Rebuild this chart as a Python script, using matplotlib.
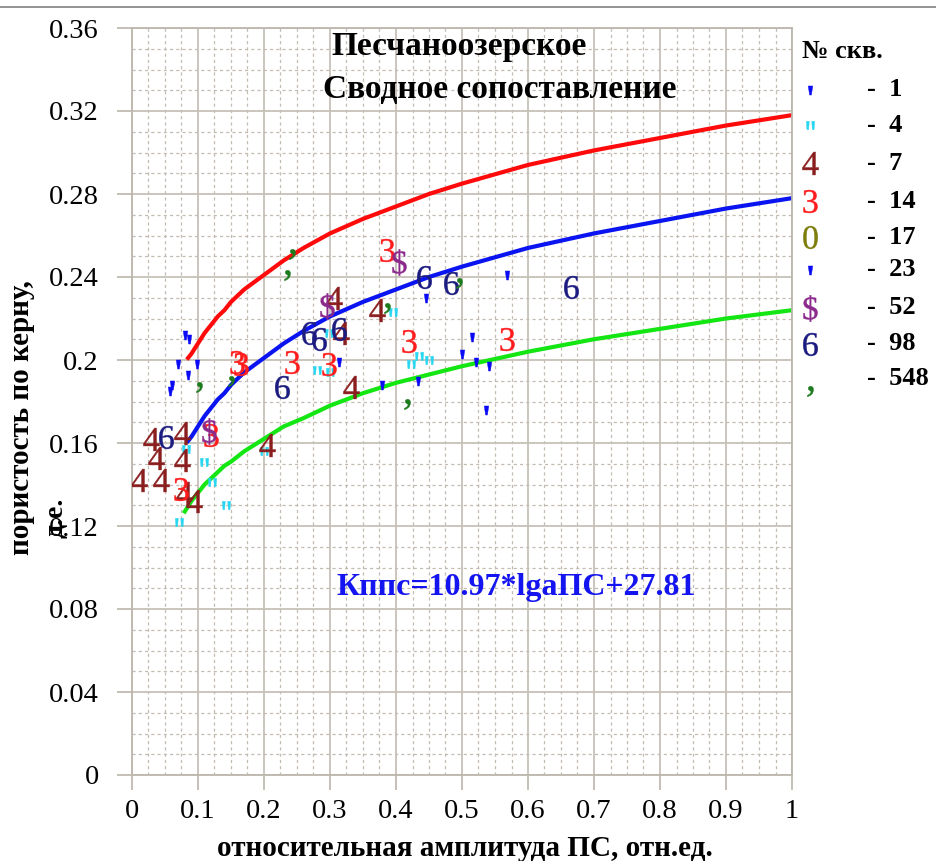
import matplotlib
matplotlib.use('Agg')
import matplotlib.pyplot as plt
from matplotlib.lines import Line2D
from matplotlib.path import Path

plt.rcParams['font.family'] = ['Liberation Serif', 'DejaVu Serif']
plt.rcParams['mathtext.fontset'] = 'custom'
plt.rcParams['mathtext.rm'] = 'Liberation Serif'
plt.rcParams['mathtext.it'] = 'Liberation Serif'
plt.rcParams['mathtext.bf'] = 'Liberation Serif:bold'

# trend lines
curve_x = [0.085, 0.09, 0.1, 0.11, 0.12, 0.13, 0.14, 0.15, 0.17, 0.2, 0.23, 0.26,
           0.3, 0.35, 0.4, 0.45, 0.5, 0.6, 0.7, 0.8, 0.9, 1.0]
red_y = [0.201, 0.203, 0.208, 0.213, 0.217, 0.221, 0.224, 0.228, 0.234, 0.241, 0.248, 0.254,
         0.261, 0.268, 0.274, 0.280, 0.285, 0.294, 0.301, 0.307, 0.313, 0.318]
blue_y = [0.161, 0.163, 0.168, 0.173, 0.177, 0.181, 0.184, 0.188, 0.194, 0.201, 0.208, 0.214,
          0.221, 0.228, 0.234, 0.240, 0.245, 0.254, 0.261, 0.267, 0.273, 0.278]
green_x = [0.08, 0.09, 0.1, 0.11, 0.12, 0.13, 0.14, 0.15, 0.17, 0.2, 0.23, 0.26,
           0.3, 0.35, 0.4, 0.45, 0.5, 0.6, 0.7, 0.8, 0.9, 1.0]
green_y = [0.127, 0.132, 0.136, 0.140, 0.143, 0.146, 0.149, 0.151, 0.156, 0.162, 0.168, 0.172,
           0.178, 0.184, 0.189, 0.193, 0.197, 0.204, 0.210, 0.215, 0.220, 0.224]

# points by well
w1_x = [0.080, 0.087, 0.070, 0.098, 0.085, 0.061, 0.058]
w1_y = [0.212, 0.210, 0.198, 0.198, 0.193, 0.188, 0.185]
w4_x = [0.082, 0.109, 0.121, 0.142, 0.071, 0.200, 0.298, 0.280, 0.300, 0.395, 0.423, 0.435, 0.450]
w4_y = [0.157, 0.151, 0.141, 0.130, 0.122, 0.156, 0.213, 0.195, 0.194, 0.223, 0.198, 0.202, 0.200]
w7_x = [0.029, 0.076, 0.036, 0.076, 0.011, 0.044, 0.079, 0.094, 0.205, 0.306, 0.317, 0.371, 0.332]
w7_y = [0.162, 0.165, 0.153, 0.152, 0.142, 0.142, 0.136, 0.132, 0.159, 0.230, 0.213, 0.224, 0.187]
w14_x = [0.159, 0.165, 0.242, 0.120, 0.074, 0.386, 0.298, 0.420, 0.568]
w14_y = [0.199, 0.198, 0.199, 0.164, 0.138, 0.253, 0.198, 0.209, 0.210]
w17_x = []
w17_y = []
w23_x = [0.314, 0.379, 0.433, 0.445, 0.568, 0.515, 0.500, 0.521, 0.541, 0.536]
w23_y = [0.199, 0.188, 0.190, 0.230, 0.241, 0.211, 0.203, 0.199, 0.197, 0.176]
w52_x = [0.117, 0.405, 0.295]
w52_y = [0.166, 0.247, 0.226]
w98_x = [0.052, 0.227, 0.268, 0.283, 0.314, 0.442, 0.483, 0.665]
w98_y = [0.163, 0.187, 0.213, 0.210, 0.215, 0.240, 0.237, 0.235]
w548_x = [0.242, 0.235, 0.101, 0.150, 0.386, 0.417, 0.495]
w548_y = [0.251, 0.241, 0.187, 0.190, 0.225, 0.179, 0.237]

well_names = ['1', '4', '7', '14', '17', '23', '52', '98', '548']

x_ticks = [0, 0.1, 0.2, 0.3, 0.4, 0.5, 0.6, 0.7, 0.8, 0.9, 1.0]
x_labels = ['0', '0.1', '0.2', '0.3', '0.4', '0.5', '0.6', '0.7', '0.8', '0.9', '1']
y_ticks = [0, 0.04, 0.08, 0.12, 0.16, 0.2, 0.24, 0.28, 0.32, 0.36]
y_labels = ['0', '0.04', '0.08', '0.12', '0.16', '0.2', '0.24', '0.28', '0.32', '0.36']

# apostrophe-like and quote-like marker shapes
tick_mark = Path([(-0.5, 1), (0.5, 1), (0.2, -1), (-0.2, -1), (-0.5, 1)],
                 [Path.MOVETO, Path.LINETO, Path.LINETO, Path.LINETO, Path.CLOSEPOLY])
quote_mark = Path([(-1, 1), (-0.3, 1), (-0.45, -1), (-0.85, -1), (-1, 1),
                   (0.3, 1), (1, 1), (0.85, -1), (0.45, -1), (0.3, 1)],
                  [Path.MOVETO, Path.LINETO, Path.LINETO, Path.LINETO, Path.CLOSEPOLY] * 2)

styles = {
    '1': (tick_mark, '#0a0af5', 6.5),
    '4': (quote_mark, '#27d6f0', 6),
    '7': (r'$4$', '#8a1e1e', 16.5),
    '14': (r'$3$', '#ff1c1c', 16.5),
    '17': (r'$0$', '#7d7d0a', 16.5),
    '23': (tick_mark, '#0a0af5', 6.5),
    '52': (r'$\$$', '#8c2a8c', 19),
    '98': (r'$6$', '#1c1c80', 16.5),
    '548': (r'$,$', '#1d7a1d', 7.5),
}
data = {'1': (w1_x, w1_y), '4': (w4_x, w4_y), '7': (w7_x, w7_y), '14': (w14_x, w14_y),
        '17': (w17_x, w17_y), '23': (w23_x, w23_y), '52': (w52_x, w52_y),
        '98': (w98_x, w98_y), '548': (w548_x, w548_y)}

W, H = 937, 861
fig = plt.figure(figsize=(W / 100, H / 100), dpi=100)
ax = fig.add_axes([132 / W, 1 - 775 / H, 660 / W, 747 / H])

ax.set_xlim(0, 1)
ax.set_ylim(0, 0.36)
ax.set_xticks(x_ticks)
ax.set_xticklabels(x_labels)
ax.set_yticks(y_ticks)
ax.set_yticklabels(y_labels)
ax.set_xticks([i * 0.025 for i in range(41)], minor=True)
ax.set_yticks([i * 0.01 for i in range(37)], minor=True)
ax.grid(which='major', color='#c6c1b8', lw=1.3)
ax.grid(which='minor', color='#c2bcb2', lw=0.9, ls=(0, (2.5, 2.5)))
ax.set_axisbelow(True)
ax.tick_params(which='major', direction='out', length=11, width=1.3, color='#c0bbb1',
               labelsize=20.5)
ax.tick_params(axis='y', pad=13)
ax.tick_params(axis='x', pad=6)
ax.tick_params(which='minor', length=0)
for s in ax.spines.values():
    s.set_color('#bcb7ad')
    s.set_linewidth(1.3)

ax.plot(curve_x, red_y, color='#ff0a0a', lw=3)
ax.plot(curve_x, blue_y, color='#0a14f0', lw=3)
ax.plot(green_x, green_y, color='#14e614', lw=3)

for w in well_names:
    mk, col, ms = styles[w]
    xs, ys = data[w]
    ax.plot(xs, ys, ls='none', marker=mk, color=col, mfc=col, mec=col,
            mew=0.3, ms=ms, zorder=4)

# legend
leg_rows = [90, 125, 163, 201, 237, 270, 308, 344, 379]
fig.text(842 / W, 1 - 51 / H, '№ скв.', ha='center', va='center', fontsize=19, weight='bold')
for w, yy in zip(well_names, leg_rows):
    mk, col, ms = styles[w]
    off = 12 if w == '548' else 0
    fig.add_artist(Line2D([810 / W], [1 - (yy + off) / H], transform=fig.transFigure,
                          ls='none', marker=mk, color=col, mfc=col, mec=col, mew=0.3, ms=ms))
    fig.text(867 / W, 1 - yy / H, '-  ' + w, ha='left', va='center', fontsize=19, weight='bold')

fig.text(459 / W, 1 - 46 / H, 'Песчаноозерское', ha='center', va='center',
         fontsize=24, weight='bold')
fig.text(500 / W, 1 - 89 / H, 'Сводное сопоставление', ha='center', va='center',
         fontsize=24, weight='bold')
fig.text(516 / W, 1 - 587 / H, 'Кппс=10.97*lgaПС+27.81', ha='center', va='center',
         fontsize=23, weight='bold', color='#1414f0')
fig.text(22 / W, 1 - 418 / H, 'пористость по керну,', rotation=90, ha='center', va='center',
         fontsize=21, weight='bold')
fig.text(56 / W, 1 - 518 / H, 'д.е.', rotation=90, ha='center', va='center',
         fontsize=20, weight='bold')
fig.text(465 / W, 1 - 848 / H, 'относительная амплитуда ПС, отн.ед.', ha='center', va='center',
         fontsize=21, weight='bold')

fig.add_artist(Line2D([0, 1], [1 - 7 / H, 1 - 7 / H], transform=fig.transFigure,
                      color='#808080', lw=1.2))

fig.savefig('out.png', dpi=100)
